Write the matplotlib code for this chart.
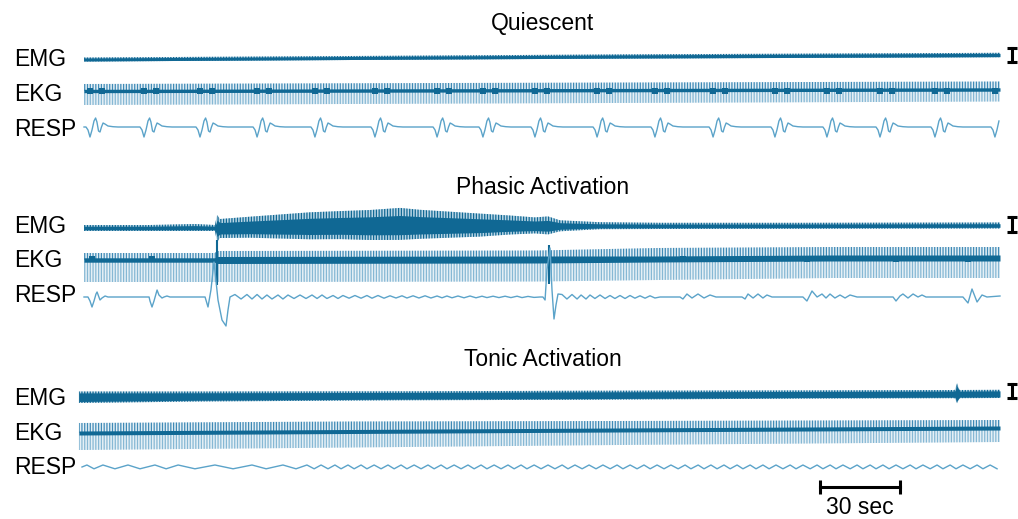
import numpy as np
import matplotlib.pyplot as plt

plt.rcParams['font.family'] = ['Liberation Sans', 'DejaVu Sans']
plt.rcParams['hatch.linewidth'] = 0.9

# ---------------- data (time in s, amplitudes in screen px) ----------------
panel_titles = ['Quiescent', 'Phasic Activation', 'Tonic Activation']
channels = ['EMG', 'EKG', 'RESP']
bar_sec = 30
trace_end = 343.5

# Quiescent
q_emg_t = [0, 100, 200, 343.5]
q_emg_mid = [0, 1.5, 3.0, 4.5]
q_emg_up = [2.0, 2.0, 2.1, 2.2]
q_emg_dn = [2.0, 2.0, 2.1, 2.2]

q_ekg_t = [0, 343.5]
q_ekg_mid = [0, 1.5]
q_ekg_up = [7, 8]
q_ekg_dn = [14, 12]
q_ekg_core = [1.7, 1.7]

q_breath_t = [2.25, 22.5, 43.5, 64.9, 86.6, 109.1, 132.4, 149.6, 169.1,
              192.4, 214.1, 235.9, 259.1, 278.6, 298.5, 319.1, 341.6]
breath_shape_t = [-1.5, -0.75, 0, 0.75, 1.5, 2.1, 2.6, 3.2, 3.75, 4.3, 4.9,
                  5.6, 6.75, 8.6, 10.5]
breath_shape_v = [0, -3, -10, -3, 6, 9, 5, -4, -5, 0, 4, 3, 1, 0.3, 0]
q_blob_lag = 4.5

# Phasic (outer extents of the EMG band)
p_emg_t = [0, 24.75, 41.6, 49.1, 49.9, 51.0, 62.25, 73.5, 84.75, 96.0, 107.25,
           118.5, 126.0, 137.25, 148.5, 159.75, 169.1, 174.0, 178.5, 193.5,
           216.0, 268.5, 343.5]
p_emg_mid = [0, 0, 0, 0, 0, 0, 0.3, 0.5, 0.7, 0.9, 1.0, 1.1, 1.2, 1.3, 1.4,
             1.5, 1.6, 1.6, 1.7, 1.8, 2.0, 2.2, 2.5]
p_emg_up = [3, 3, 4, 3, 13, 9, 11, 13, 15, 16, 17, 19, 17, 15, 13, 11, 9, 10, 6,
            4, 3.2, 3, 3]
p_emg_dn = [3, 3, 3, 3, 14, 10, 10, 11, 12, 12, 13, 13, 12, 11, 10, 8, 7, 8, 5,
            3, 3, 3, 3]

p_ekg_t = [0, 49, 50, 170, 215, 280, 343.5]
p_ekg_mid = [0, 0, 0, 0.5, 1, 2, 2]
p_ekg_up = [7, 7, 9, 9, 11, 11, 11]
p_ekg_dn = [22, 22, 22, 22, 21, 20, 20]
p_ekg_core = [2.2, 2.2, 3.5, 3.5, 3.0, 3.0, 3.0]
p_artifact_t = [49.9, 174.4]
p_artifact_up = [20, 15]
p_artifact_dn = [25, 24]
p_blob_t = [3.0, 25.5, 224.6, 247.5, 271.1, 304.5, 331.5]

p_resp = [
    (0, 0), (1.5, 0), (2.25, -4), (3.0, -10), (3.75, -4), (4.5, 3), (4.9, 5),
    (5.6, 0), (6.0, -3), (6.75, -1), (7.9, 1), (9.0, 0),
    (24.4, 0), (24.75, -4), (25.5, -10), (26.25, -4), (27.0, 3), (27.4, 7),
    (28.1, 2), (29.25, -1), (30.0, 0), (31.1, 1), (32.25, 0),
    (45.4, 0), (46.5, -10), (47.6, 7), (48.75, 35), (50.25, -3), (51.75, -23),
    (53.25, -29), (54.0, -13), (54.75, 0),
    (56.6, 2.5), (58.9, -2), (61.1, 2.5), (63.0, -2), (64.9, 2.5), (66.75, -2),
    (68.6, 2), (70.5, -2), (72.75, 2), (74.6, -2), (76.5, 2), (78.75, -1.5),
    (81.0, 2), (83.25, -1.5), (85.5, 2), (87.4, -1.5), (89.25, 2), (91.1, -1.5),
    (93.4, 1.5), (95.25, -1.5), (97.1, 1.5), (99.4, -1.2), (101.6, 1.5),
    (103.9, -1.2), (106.1, 1.5), (108.0, -1.2), (110.25, 1.5), (112.5, -1.2),
    (114.75, 1.2), (117.0, -1), (119.25, 1.2), (121.1, -1), (123.4, 1.2),
    (125.6, -1), (127.9, 1.2), (130.1, -1), (132.4, 1), (134.25, -0.8),
    (136.1, 1), (138.0, -0.8), (140.25, 1), (142.5, -0.8), (144.75, 1),
    (147.0, -0.8), (149.25, 0.8), (151.1, -0.6), (153.4, 0.8), (155.6, -0.6),
    (157.9, 0.8), (160.1, -0.6), (162.4, 0.8), (164.25, -0.6), (166.5, 0.6),
    (168.75, -0.4), (171.0, 0),
    (172.1, 0), (172.9, -3), (173.6, 27), (174.75, 49), (175.5, 7), (176.25, -22),
    (177.0, -8), (177.75, 3),
    (179.25, 2.5), (181.1, -2), (183.0, 2.5), (184.9, -2), (186.4, 2),
    (188.25, -2), (189.75, 2), (191.6, -1.5), (193.5, 2), (195.4, -1.5),
    (197.25, 1.5), (199.1, -1.5), (201.0, 1.5), (202.9, -1.5), (204.75, 1.5),
    (206.6, -1.2), (208.5, 1.2), (210.4, -1.2), (212.25, 1.2), (214.1, -1),
    (216.0, 0), (223.5, 0),
    (224.6, -2), (226.1, 3), (228.0, -1), (230.25, 3), (232.5, -1), (234.75, 2),
    (237.0, 0),
    (246.75, 0), (247.9, -2), (249.0, 3), (250.9, -1), (252.75, 3), (254.6, -1),
    (256.1, 2), (258.0, 0),
    (269.6, 0), (271.1, -4), (273.0, 6), (274.9, 0), (276.75, 3), (278.25, -1),
    (279.75, 3), (281.6, -1), (283.5, 2), (285.4, -1), (287.25, 2), (289.9, 0),
    (303.4, 0), (304.5, -4), (306.0, 1), (307.1, 3), (309.0, -1), (310.9, 3),
    (312.75, 0), (314.25, 2), (315.75, 0),
    (329.6, 0), (331.5, -6), (333.0, 8), (334.9, -5), (336.75, 2), (338.6, 0),
    (343.5, 1),
]

# Tonic (outer extents of the EMG band)
t_emg_t = [-1.9, 43.5, 118.5, 193.5, 268.5, 326.5, 327.4, 328.3, 343.5]
t_emg_mid = [0, 0.5, 1.2, 1.8, 2.4, 2.8, 2.8, 2.8, 3.0]
t_emg_up = [5.5, 5, 4.5, 4.5, 4.2, 4.2, 11, 4.2, 4.2]
t_emg_dn = [6, 5, 4.5, 4.5, 4.0, 4.0, 9, 4.0, 4.0]

t_ekg_t = [-1.9, 100, 200, 343.5]
t_ekg_mid = [0, 1.5, 3, 5]
t_ekg_up = [10, 10, 9, 8]
t_ekg_dn = [17, 16, 15, 14]
t_ekg_core = [2, 2, 2, 2]

t_resp_peak_t = [1.1, 7.1, 16.5, 26.6, 35.3, 49.1, 63.0, 74.6, 83.6, 88.9, 94.1,
                 99.0, 103.9, 108.8, 114.0, 118.9, 123.8, 129.0, 133.9, 138.8,
                 144.0, 148.9, 153.8, 159.0, 163.9, 168.8, 174.0, 179.3, 184.1,
                 189.4, 194.6, 199.9, 204.8, 210.0, 214.9, 220.1, 225.4, 230.3,
                 235.1, 240.0, 244.9, 249.8, 254.6, 259.5, 264.8, 269.6, 274.9,
                 279.8, 284.6, 289.9, 294.8, 299.6, 304.5, 309.8, 314.6, 319.9,
                 324.8, 329.6, 334.9, 339.8]
t_resp_trough_t = [3.75, 11.6, 21.0, 30.8, 41.6, 55.9, 68.3, 79.5, 86.3, 91.5,
                   96.4, 101.3, 106.1, 111.4, 116.3, 121.1, 126.4, 131.3, 136.1,
                   141.4, 146.3, 151.1, 156.4, 161.3, 166.1, 171.4, 176.6, 181.5,
                   186.8, 192.0, 197.3, 202.1, 207.4, 212.3, 217.5, 222.8, 227.6,
                   232.5, 237.4, 242.3, 247.1, 252.0, 256.9, 262.1, 267.0, 272.3,
                   277.1, 282.0, 287.3, 292.1, 297.0, 301.9, 307.1, 312.0, 317.3,
                   322.1, 327.0, 332.3, 337.1, 342.4]
t_resp_peak_v = 2.0
t_resp_trough_v = -1.8

# ---------------- layout / style ----------------
DARK = '#106894'
STREAK_UP = '#3f8ab6'
STREAK_DN = '#86b8d4'
WASH = '#e6f0f6'
RESP_C = '#5ba3c9'
FS = 16.5

# baselines (screen px from top) for EMG, EKG, RESP of each panel
rows = [(59.5, 91, 127), (228, 260, 297), (397, 433, 467)]
label_base = [(66.5, 101, 136), (232.7, 267.3, 301.7), (405, 440, 474)]
title_base = [30, 194, 366]

fig = plt.figure(figsize=(10.18, 5.19), dpi=100)
ax = fig.add_axes([0, 0, 1, 1])
ax.set_xlim(-31.5, 350.25)
ax.set_ylim(519, 0)
ax.axis('off')


def draw_emg(base, t, mid, up, dn, core_frac=0.6):
    t = np.asarray(t)
    c = base - np.asarray(mid)
    up = np.asarray(up)
    dn = np.asarray(dn)
    ax.fill_between(t, c - up, c + dn, facecolor='#b9d5e5', edgecolor=DARK,
                    hatch='||||||', lw=0)
    ax.fill_between(t, c - up * core_frac, c + dn * core_frac, color=DARK, lw=0)


def draw_ekg(base, t, mid, up, dn, core):
    t = np.asarray(t)
    c = base - np.asarray(mid)
    ax.fill_between(t, c - np.asarray(up), c, facecolor=WASH,
                    edgecolor=STREAK_UP, hatch='||||||', lw=0)
    ax.fill_between(t, c, c + np.asarray(dn), facecolor=WASH,
                    edgecolor=STREAK_DN, hatch='||||||', lw=0)
    core = np.asarray(core)
    ax.fill_between(t, c - core, c + core, color=DARK, lw=0)


# Quiescent
b = rows[0]
draw_emg(b[0], q_emg_t, q_emg_mid, q_emg_up, q_emg_dn, core_frac=0.75)
draw_ekg(b[1], q_ekg_t, q_ekg_mid, q_ekg_up, q_ekg_dn, q_ekg_core)
blob_t = np.array(q_breath_t + [x + q_blob_lag for x in q_breath_t])
blob_t = blob_t[blob_t <= trace_end]
ax.scatter(blob_t, np.full(len(blob_t), b[1] - 0.5), s=20, marker='s',
           color=DARK, lw=0, zorder=3)
rt, rv = [0.0], [0.0]
for bt in q_breath_t:
    for st, sv in zip(breath_shape_t, breath_shape_v):
        if bt + st <= trace_end:
            rt.append(bt + st)
            rv.append(sv)
ax.plot(rt, b[2] - np.array(rv), color=RESP_C, lw=1.0)

# Phasic
b = rows[1]
draw_emg(b[0], p_emg_t, p_emg_mid, p_emg_up, p_emg_dn)
draw_ekg(b[1], p_ekg_t, p_ekg_mid, p_ekg_up, p_ekg_dn, p_ekg_core)
ax.vlines(p_artifact_t, b[1] - np.array(p_artifact_up),
          b[1] + np.array(p_artifact_dn), color=DARK, lw=1.5)
ax.scatter(p_blob_t, np.full(len(p_blob_t), b[1] - 1), s=22, marker='s',
           color=DARK, lw=0, zorder=3)
pt = np.array([p[0] for p in p_resp])
pv = np.array([p[1] for p in p_resp])
ax.plot(pt, b[2] - pv, color=RESP_C, lw=1.0)

# Tonic
b = rows[2]
draw_emg(b[0], t_emg_t, t_emg_mid, t_emg_up, t_emg_dn, core_frac=0.75)
draw_ekg(b[1], t_ekg_t, t_ekg_mid, t_ekg_up, t_ekg_dn, t_ekg_core)
tt = np.array(t_resp_peak_t + t_resp_trough_t)
tv = np.array([t_resp_peak_v] * len(t_resp_peak_t)
              + [t_resp_trough_v] * len(t_resp_trough_t))
order = np.argsort(tt)
tt = np.concatenate([[-0.75], tt[order]])
tv = np.concatenate([[0.0], tv[order]])
ax.plot(tt, b[2] - tv, color=RESP_C, lw=1.0)

# labels and titles
for i, title in enumerate(panel_titles):
    ax.text(172.1, title_base[i], title, ha='center', va='baseline',
            fontsize=FS, color='black')
    for name, yb in zip(channels, label_base[i]):
        ax.text(-26.25, yb, name, ha='left', va='baseline', fontsize=FS,
                color='black')

# amplitude bars
amp_bars = [(48, 62), (217, 232), (384, 398)]
for y0, y1 in amp_bars:
    ax.plot([348, 348], [y0, y1], color='black', lw=2.2)
    ax.plot([348, 348], [y0, y1], ls='none', marker='_', ms=7, mew=2.2,
            color='black')

# time scale bar
ax.plot([276, 276 + bar_sec], [487, 487], color='black', lw=2.2)
ax.plot([276, 276 + bar_sec], [487, 487], ls='none', marker='|', ms=10,
        mew=2.2, color='black')
ax.text(276 + bar_sec / 2, 513.5, f'{bar_sec} sec', ha='center', va='baseline',
        fontsize=FS, color='black')

fig.savefig('out.png', dpi=100)
